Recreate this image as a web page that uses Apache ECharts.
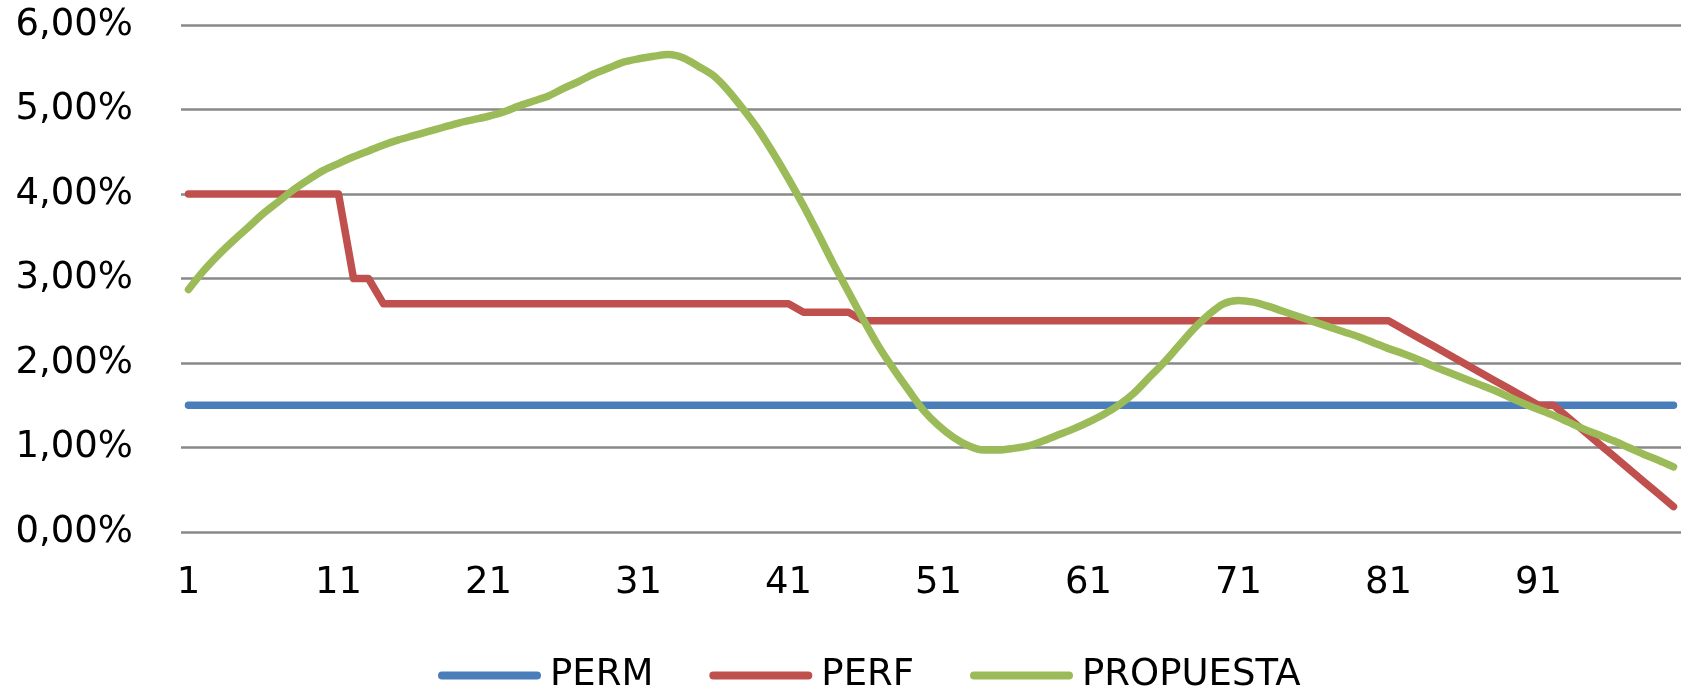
<!DOCTYPE html>
<html>
<head>
<meta charset="utf-8">
<script src="https://cdn.jsdelivr.net/npm/echarts@6/dist/echarts.min.js"></script>
<style>
html,body{margin:0;padding:0;background:#fff;}
#chart{width:1692px;height:687px;}
</style>
</head>
<body>
<div id="chart"></div>
<script>
const categories = Array.from({length: 100}, (_, i) => String(i + 1));

const seriesNames = ['PERM', 'PERF', 'PROPUESTA'];

const perm = [
  1.5,1.5,1.5,1.5,1.5,1.5,1.5,1.5,1.5,1.5,
  1.5,1.5,1.5,1.5,1.5,1.5,1.5,1.5,1.5,1.5,
  1.5,1.5,1.5,1.5,1.5,1.5,1.5,1.5,1.5,1.5,
  1.5,1.5,1.5,1.5,1.5,1.5,1.5,1.5,1.5,1.5,
  1.5,1.5,1.5,1.5,1.5,1.5,1.5,1.5,1.5,1.5,
  1.5,1.5,1.5,1.5,1.5,1.5,1.5,1.5,1.5,1.5,
  1.5,1.5,1.5,1.5,1.5,1.5,1.5,1.5,1.5,1.5,
  1.5,1.5,1.5,1.5,1.5,1.5,1.5,1.5,1.5,1.5,
  1.5,1.5,1.5,1.5,1.5,1.5,1.5,1.5,1.5,1.5,
  1.5,1.5,1.5,1.5,1.5,1.5,1.5,1.5,1.5,1.5
];

const perf = [
  4,4,4,4,4,4,4,4,4,4,
  4,3,3,2.7,2.7,2.7,2.7,2.7,2.7,2.7,
  2.7,2.7,2.7,2.7,2.7,2.7,2.7,2.7,2.7,2.7,
  2.7,2.7,2.7,2.7,2.7,2.7,2.7,2.7,2.7,2.7,
  2.7,2.6,2.6,2.6,2.6,2.5,2.5,2.5,2.5,2.5,
  2.5,2.5,2.5,2.5,2.5,2.5,2.5,2.5,2.5,2.5,
  2.5,2.5,2.5,2.5,2.5,2.5,2.5,2.5,2.5,2.5,
  2.5,2.5,2.5,2.5,2.5,2.5,2.5,2.5,2.5,2.5,
  2.5,2.4,2.3,2.2,2.1,2.0,1.9,1.8,1.7,1.6,
  1.5,1.5,1.35,1.2,1.05,0.9,0.75,0.6,0.45,0.3
];

const propuesta = [
  2.87,3.09,3.28,3.45,3.61,3.77,3.91,4.05,4.17,4.28,
  4.36,4.44,4.51,4.58,4.64,4.69,4.74,4.79,4.84,4.88,
  4.92,4.97,5.04,5.10,5.16,5.25,5.33,5.42,5.49,5.56,
  5.60,5.63,5.65,5.61,5.51,5.40,5.22,5.00,4.76,4.48,
  4.18,3.86,3.52,3.17,2.84,2.51,2.20,1.93,1.68,1.44,
  1.26,1.12,1.02,0.97,0.97,0.99,1.02,1.08,1.15,1.22,
  1.30,1.39,1.50,1.64,1.82,2.00,2.20,2.40,2.57,2.70,
  2.74,2.72,2.67,2.61,2.55,2.49,2.43,2.37,2.31,2.24,
  2.17,2.11,2.04,1.96,1.89,1.82,1.75,1.68,1.60,1.52,
  1.45,1.38,1.30,1.22,1.15,1.08,1.00,0.92,0.85,0.77
];

const colors = ['#4A7EBB', '#C0504D', '#9BBB59'];
const FONT = 'DejaVu Sans';

const chart = echarts.init(document.getElementById('chart'), null, {renderer: 'canvas'});
const legendIcon = 'path://M4,0 L99,0 A4,4 0 0 1 99,8 L4,8 A4,4 0 0 1 4,0 Z';

chart.setOption({
  animation: false,
  backgroundColor: '#ffffff',
  color: colors,
  textStyle: {fontFamily: FONT},
  grid: {left: 181, right: 11, top: 25, bottom: 155, containLabel: false},
  legend: {
    data: seriesNames,
    left: 433,
    top: 652,
    icon: legendIcon,
    itemWidth: 103,
    itemHeight: 8,
    itemGap: 56,
    textStyle: {fontFamily: FONT, fontSize: 37, color: '#000', padding: [0, 0, 0, 4]}
  },
  xAxis: {
    type: 'category',
    data: categories,
    boundaryGap: true,
    axisLine: {show: false},
    axisTick: {show: false},
    axisLabel: {
      interval: 9,
      margin: 33,
      fontFamily: FONT,
      fontSize: 37,
      color: '#000'
    },
    splitLine: {show: false}
  },
  yAxis: {
    type: 'value',
    min: 0,
    max: 6,
    interval: 1,
    axisLine: {show: false},
    axisTick: {show: false},
    axisLabel: {
      margin: 48,
      fontFamily: FONT,
      fontSize: 37,
      color: '#000',
      formatter: v => v.toFixed(2).replace('.', ',') + '%'
    },
    splitLine: {show: true, lineStyle: {color: '#898989', width: 2.5}}
  },
  series: [
    {name: seriesNames[0], type: 'line', data: perm, showSymbol: false, symbol: 'none',
     lineStyle: {width: 7.5, color: colors[0], cap: 'round', join: 'round'}},
    {name: seriesNames[1], type: 'line', data: perf, showSymbol: false, symbol: 'none',
     lineStyle: {width: 7.5, color: colors[1], cap: 'round', join: 'round'}},
    {name: seriesNames[2], type: 'line', data: propuesta, showSymbol: false, symbol: 'none', smooth: 0.3,
     lineStyle: {width: 7.5, color: colors[2], cap: 'round', join: 'round'}}
  ]
});
</script>
</body>
</html>
